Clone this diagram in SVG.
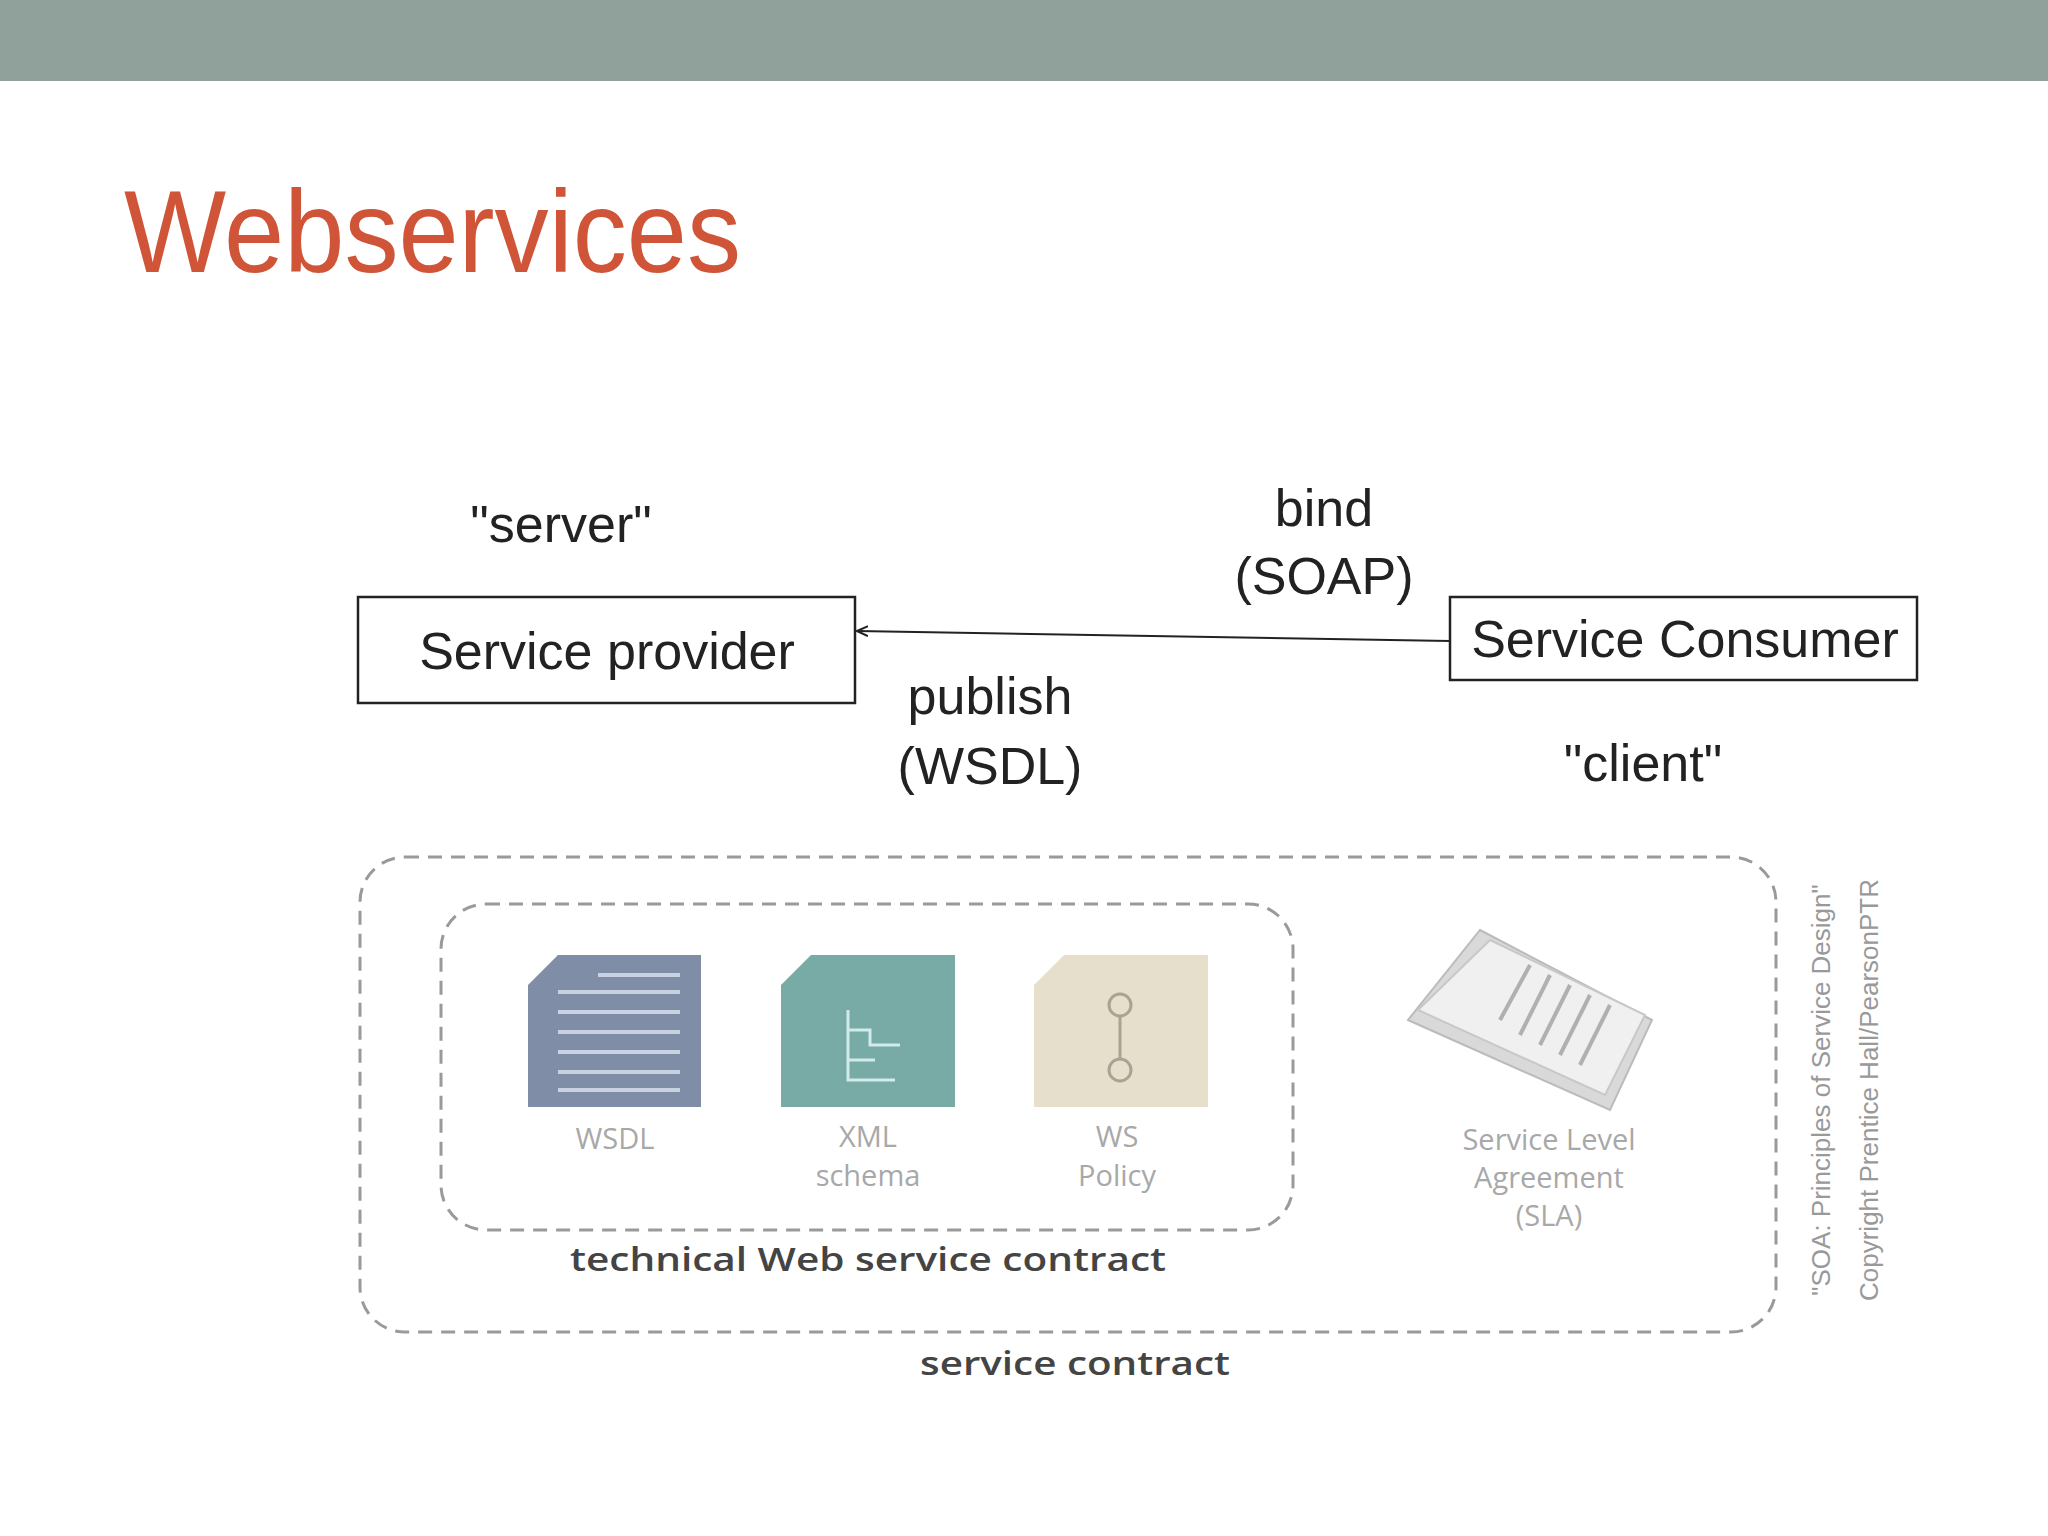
<svg xmlns="http://www.w3.org/2000/svg" width="2048" height="1536" viewBox="0 0 2048 1536">
<defs>
<style>
.t{font-family:"Liberation Sans",Arial,sans-serif;fill:#222;font-size:52px;text-anchor:middle}
.g{font-family:"Open Sans","Liberation Sans",sans-serif;fill:#a8a8a8;font-size:29px;text-anchor:middle}
.d{font-family:"Open Sans","Liberation Sans",sans-serif;fill:#444;font-size:33px;text-anchor:middle;font-weight:600}
.box{fill:#fff;stroke:#222;stroke-width:2.5}
.dash{fill:none;stroke:#9a9a9a;stroke-width:3;stroke-dasharray:14 9}
</style>
<marker id="ah" viewBox="0 0 12 12" refX="11" refY="6" markerWidth="12" markerHeight="12" markerUnits="userSpaceOnUse" orient="auto"><path d="M0,1 L11,6 L0,11" fill="none" stroke="#222" stroke-width="2"/></marker>
</defs>
<rect width="2048" height="1536" fill="#fff"/>
<rect width="2048" height="81" fill="#8fa19a"/>
<text x="124" y="272" font-family="Liberation Sans,Arial,sans-serif" font-size="116" fill="#d05438" textLength="617" lengthAdjust="spacingAndGlyphs">Webservices</text>
<text class="t" x="561" y="542">"server"</text>
<g id="provider"><rect class="box" x="358" y="597" width="497" height="106"/><text class="t" x="607" y="669" font-size="50">Service provider</text></g>
<g id="consumer"><rect class="box" x="1450" y="597" width="467" height="83"/><text class="t" x="1685" y="657" font-size="50">Service Consumer</text></g>
<g id="connectors"><line x1="1450" y1="641" x2="857" y2="631" stroke="#222" stroke-width="2" marker-end="url(#ah)"/></g>
<text class="t" x="1324" y="526">bind</text>
<text class="t" x="1324" y="594">(SOAP)</text>
<text class="t" x="990" y="714">publish</text>
<text class="t" x="990" y="784">(WSDL)</text>
<text class="t" x="1643" y="781">"client"</text>
<g id="service-contract"><rect class="dash" x="360" y="857" width="1416" height="475" rx="45"/><text class="d" x="1075" y="1375" textLength="310" lengthAdjust="spacingAndGlyphs">service contract</text></g>
<g id="technical-contract"><rect class="dash" x="441" y="904" width="852" height="326" rx="45"/><text class="d" x="868" y="1271" textLength="596" lengthAdjust="spacingAndGlyphs">technical Web service contract</text></g>
<g id="wsdl"><path d="M558,955 H701 V1107 H528 V985 Z" fill="#7f8ea6"/><g stroke="#c8d2e0" stroke-width="4"><line x1="598" y1="975" x2="680" y2="975"/><line x1="558" y1="992" x2="680" y2="992"/><line x1="558" y1="1012" x2="680" y2="1012"/><line x1="558" y1="1032" x2="680" y2="1032"/><line x1="558" y1="1052" x2="680" y2="1052"/><line x1="558" y1="1072" x2="680" y2="1072"/><line x1="558" y1="1090" x2="680" y2="1090"/></g><text class="g" x="615" y="1149">WSDL</text></g>
<g id="xml"><path d="M811,955 H955 V1107 H781 V985 Z" fill="#78aaa6"/><path d="M848,1010 V1080 H895 M848,1030 H870 V1045 H900 M848,1060 H875" fill="none" stroke="#d0ece8" stroke-width="3"/><text class="g" x="868" y="1147">XML</text><text class="g" x="868" y="1186">schema</text></g>
<g id="policy"><path d="M1064,955 H1208 V1107 H1034 V985 Z" fill="#e6dfcc"/><g fill="none" stroke="#a9a394" stroke-width="3"><circle cx="1120" cy="1005" r="11"/><circle cx="1120" cy="1070" r="11"/><line x1="1120" y1="1016" x2="1120" y2="1059"/></g><text class="g" x="1117" y="1147">WS</text><text class="g" x="1117" y="1186">Policy</text></g>
<g id="sla"><path d="M1480,930 L1652,1020 L1610,1110 L1408,1020 Z" fill="#d9d9d9" stroke="#bbb" stroke-width="2"/><path d="M1490,940 L1645,1015 L1605,1095 L1418,1010 Z" fill="#f0f0f0" stroke="#c8c8c8" stroke-width="2"/><g stroke="#b0b0b0" stroke-width="4"><line x1="1530" y1="965" x2="1500" y2="1020"/><line x1="1550" y1="975" x2="1520" y2="1035"/><line x1="1570" y1="985" x2="1540" y2="1045"/><line x1="1590" y1="995" x2="1560" y2="1055"/><line x1="1610" y1="1005" x2="1580" y2="1065"/></g><text class="g" x="1549" y="1150">Service Level</text><text class="g" x="1549" y="1188">Agreement</text><text class="g" x="1549" y="1226">(SLA)</text></g>
<text font-family="Liberation Sans Narrow,Liberation Sans,sans-serif" font-size="26" fill="#999" text-anchor="middle" transform="translate(1830,1090) rotate(-90)">"SOA: Principles of Service Design"</text>
<text font-family="Liberation Sans Narrow,Liberation Sans,sans-serif" font-size="26" fill="#999" text-anchor="middle" transform="translate(1878,1090) rotate(-90)">Copyright Prentice Hall/PearsonPTR</text>
</svg>
